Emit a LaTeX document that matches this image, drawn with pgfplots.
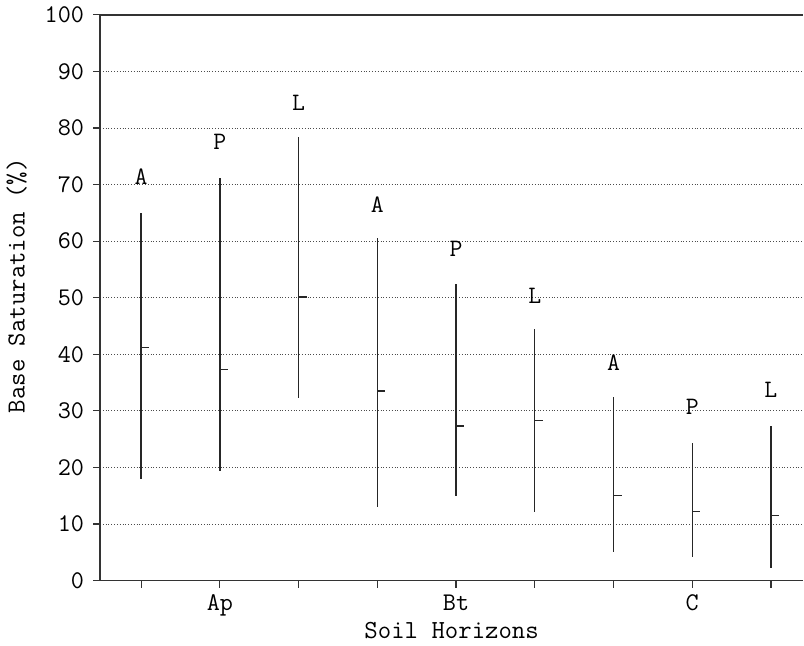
\documentclass[border=0pt]{standalone}
\usepackage{pgfplots}
\usepackage{pgfplotstable}
\pgfplotsset{compat=1.18}
\pgfdeclareplotmark{rtick}{\pgfpathmoveto{\pgfpointorigin}\pgfpathlineto{\pgfpoint{4pt}{0pt}}\pgfusepathqstroke}
\pgfplotstableread{
x mean ep em
1 41.2 23.8 23.2
2 37.3 33.9 18.0
3 50.1 28.3 17.9
4 33.5 27.0 20.4
5 27.3 25.1 12.3
6 28.3 16.1 16.1
7 15.0 17.4 9.9
8 12.2 12.2 8.0
9 11.5 15.8 9.2
}\stats
\pgfplotstableread{
x y lab
1 71.3 A
2 77.5 P
3 84.4 L
4 66.4 A
5 58.6 P
6 50.3 L
7 38.6 A
8 30.8 P
9 33.8 L
}\labels
\begin{document}
\begin{tikzpicture}
\begin{axis}[
  scale only axis,
  width=351pt, height=282.5pt,
  xmin=0.478, xmax=9.41,
  ymin=0, ymax=100,
  axis y line*=left,
  y axis line style={-},
  ytick={0,10,...,100},
  xtick={1,...,9},
  xticklabels={,Ap,,,Bt,,,C,},
  xtick pos=bottom, ytick pos=left,
  tick align=outside,
  major tick length=3.5pt,
  ymajorgrids,
  grid style={densely dotted, black!70, line width=0.4pt},
  axis line style={line width=0.8pt, black!80},
  tick style={line width=0.6pt, black!80},
  /pgf/number format/assume math mode=true,
  ticklabel style={font=\ttfamily\fontsize{12.7}{14}\selectfont},
  yticklabel style={xshift=-1pt},
  xlabel={Soil Horizons},
  ylabel={Base Saturation (\%)},
  xlabel style={font=\ttfamily\fontsize{13}{15}\selectfont, yshift=4pt},
  ylabel style={font=\ttfamily\fontsize{13}{15}\selectfont, yshift=2pt, xshift=6pt},
]
\addplot[black!85, only marks, mark=rtick, line width=0.7pt,
  error bars/.cd, y dir=both, y explicit, error mark=none,
  error bar style={line width=0.7pt, black!85}]
  table[x=x, y=mean, y error plus=ep, y error minus=em] {\stats};
\addplot[draw=none, mark=none, nodes near coords, point meta=explicit symbolic,
  every node near coord/.append style={anchor=center, inner sep=0pt, font=\ttfamily\fontsize{12.5}{14}\selectfont, black}]
  table[x=x, y=y, meta=lab] {\labels};
\end{axis}
\end{tikzpicture}
\end{document}
